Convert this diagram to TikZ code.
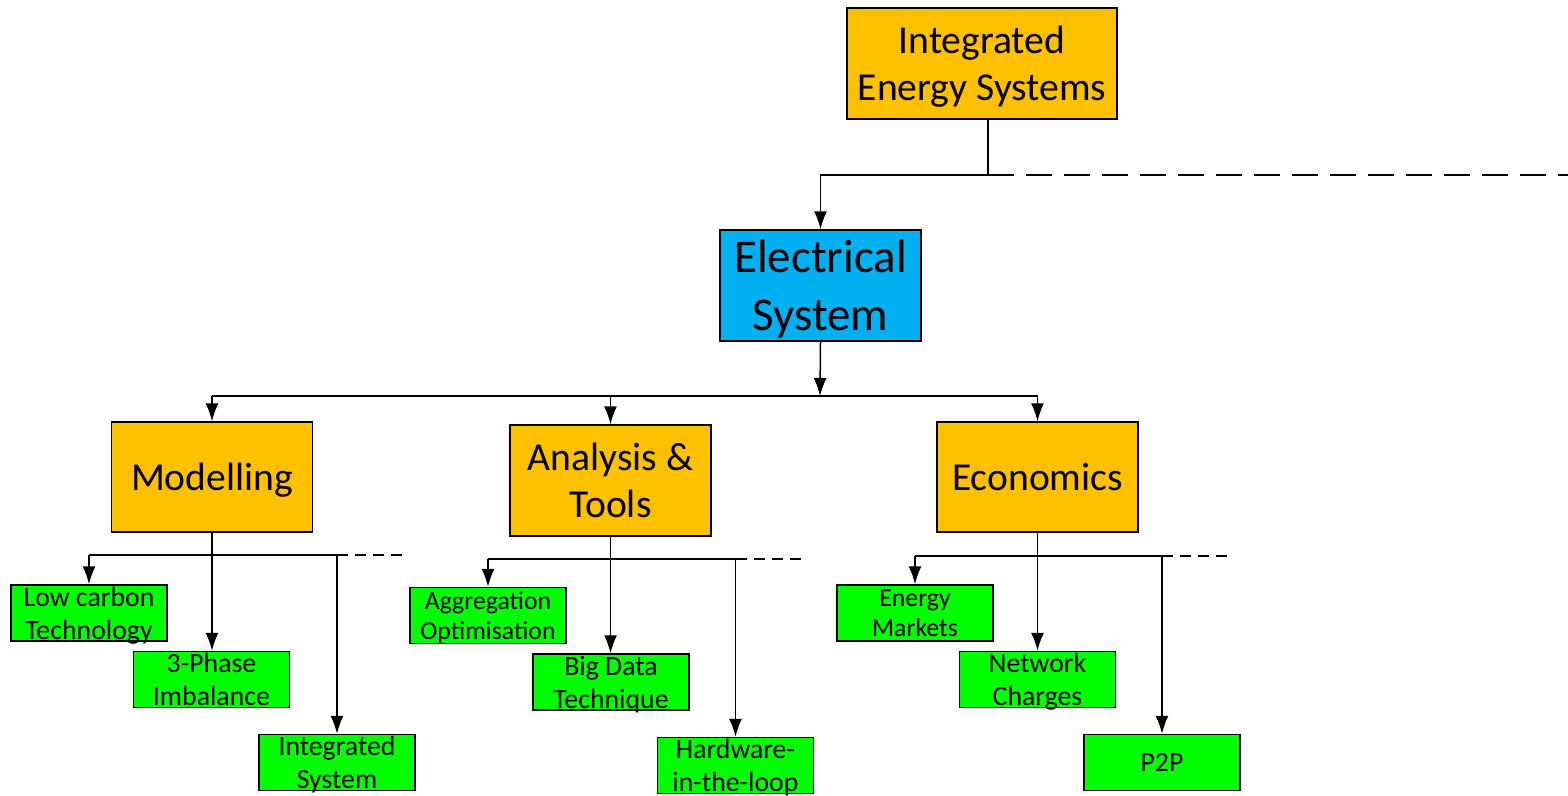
\documentclass[tikz,border=0pt]{standalone}
\usepackage{fontspec}
\setmainfont{Carlito}
\usepackage{tikz}
\usetikzlibrary{arrows.meta, positioning}
\usepackage{xcolor}
\definecolor{iesorange}{HTML}{FFC000}
\definecolor{iesblue}{HTML}{00B0F0}
\definecolor{iesgreen}{HTML}{00FF00}

\begin{document}
\begin{tikzpicture}[x=1pt, y=-1pt, line width=1.5pt,
  mainbox/.style={draw, fill=iesorange, minimum width=201pt, minimum height=110pt,
    inner sep=0pt, text depth=0pt, align=center, font=\fontsize{39.6}{47}\selectfont},
  leafbox/.style={draw, fill=iesgreen, minimum width=156pt, minimum height=56pt,
    inner sep=0pt, text depth=0pt, align=center, font=\fontsize{27.8}{33}\selectfont},
  smallleaf/.style={leafbox, font=\fontsize{25.8}{30}\selectfont},
  arr/.style={-{Latex[length=18pt, width=13pt]}},
  longdash/.style={dash pattern=on 26pt off 12pt},
  shortdash/.style={dash pattern=on 11pt off 7pt}]
  \useasboundingbox (0,0) rectangle (1568,795);

  % Top levels
  \node[mainbox, minimum width=270pt, minimum height=111pt] (ies) at (982,63.5)
    {Integrated\\Energy Systems};
  \node[mainbox, fill=iesblue, minimum height=111pt,
    font=\fontsize{47}{58}\selectfont] (es) at (820.5,285.5) {Electrical\\System};

  % Branches
  \node[mainbox] (mod) at (212,477) {Modelling};
  \node[mainbox, minimum height=111pt] (ana) at (610.5,480.5) {Analysis \&\\Tools};
  \node[mainbox] (eco) at (1037.5,477) {Economics};

  % Leaves
  \node[leafbox] (lct) at (89,613)      {Low carbon\\Technology};
  \node[leafbox] (tpi) at (211.5,679.5) {3-Phase\\Imbalance};
  \node[leafbox] (isy) at (337,762.5)   {Integrated\\System};
  \node[smallleaf] (agg) at (488,615.5) {Aggregation\\Optimisation};
  \node[leafbox] (bdt) at (611,682)     {Big Data\\Technique};
  \node[leafbox] (hil) at (735.5,765.5) {Hardware-\\in-the-loop};
  \node[smallleaf] (enm) at (915,613)   {Energy\\Markets};
  \node[leafbox] (ntc) at (1037.5,679.5) {Network\\Charges};
  \node[leafbox] (p2p) at (1162,762.5)  {P2P};

  % IES -> Electrical System
  \coordinate (iesbus) at (988,175);
  \coordinate (iesend) at (1568,175);
  \draw[arr] (ies.south -| iesbus) -- (iesbus) -| (es.north);
  \draw[longdash] (iesbus) -- (iesend);

  % Electrical System -> branches
  \coordinate (esbus) at (820,396);
  \draw[arr] (es.south) -- (esbus);
  \draw (mod.north |- esbus) -- (eco.north |- esbus);
  \foreach \b in {mod, ana, eco} {
    \draw[arr] (\b.north |- esbus) -- (\b.north);
  }

  % Branches -> leaves
  \foreach \pa/\l/\m/\r/\y in {mod/lct/tpi/isy/555, ana/agg/bdt/hil/559, eco/enm/ntc/p2p/556} {
    \coordinate (\pa bus) at (\pa.south |- 0,\y);
    \path (\r.north |- \pa bus) ++(69,0) coordinate (\pa end);
    \draw[arr] (\pa.south) -- (\pa.south |- \m.north);
    \draw (\l.north |- \pa bus) -- (\r.north |- \pa bus);
    \draw[arr] (\l.north |- \pa bus) -- (\l.north);
    \draw[arr] (\r.north |- \pa bus) -- (\r.north);
    \draw[shortdash] (\r.north |- \pa bus) -- (\pa end);
  }
\end{tikzpicture}
\end{document}
